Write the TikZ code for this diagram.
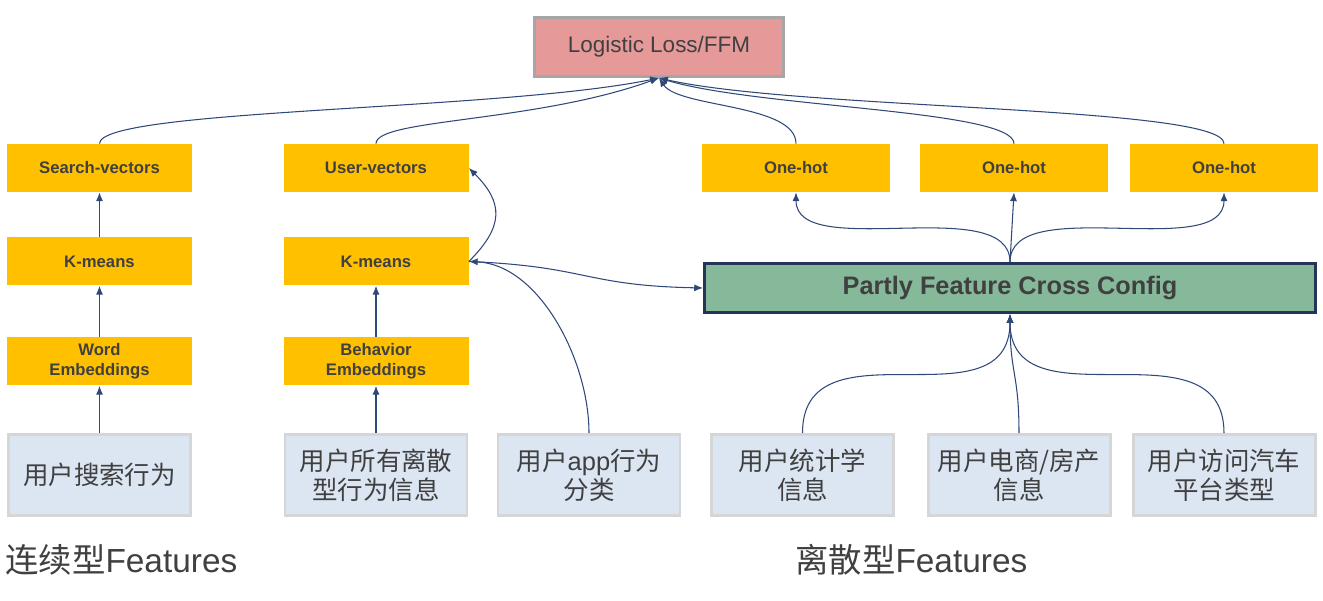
\documentclass[tikz,border=0pt]{standalone}
\usepackage{fontspec}
\setmainfont{Liberation Sans}
\newfontfamily\cjk{Noto Sans CJK SC}
\usetikzlibrary{arrows.meta}
\definecolor{ybox}{RGB}{255,192,0}
\definecolor{lossfill}{RGB}{229,153,153}
\definecolor{lossline}{RGB}{166,166,166}
\definecolor{cfgfill}{RGB}{134,185,154}
\definecolor{cfgline}{RGB}{36,54,88}
\definecolor{srcfill}{RGB}{220,230,242}
\definecolor{srcline}{RGB}{214,214,214}
\definecolor{darktext}{RGB}{64,64,64}
\definecolor{linkblue}{RGB}{47,72,120}

\begin{document}
\begin{tikzpicture}[>={Latex[length=5pt,width=4pt]},
  yellowbox/.style={fill=ybox, minimum width=3.7cm, minimum height=0.96cm, inner sep=0pt, align=center, text=darktext, font=\bfseries\fontsize{9.5}{11.3}\selectfont},
  srcbox/.style={fill=srcfill, draw=srcline, line width=1.7pt, minimum width=3.64cm, minimum height=1.62cm, inner sep=0pt, align=center, text=darktext, font=\cjk\fontsize{14.5}{16.4}\selectfont},
  grouplabel/.style={anchor=west, inner sep=0pt, text=darktext, font=\fontsize{19}{22}\selectfont},
  link/.style={->, draw=linkblue, line width=0.6pt}]
  \useasboundingbox (0,0) rectangle (26.46,-12.02);

  \node[fill=lossfill, draw=lossline, line width=1.7pt, minimum width=4.98cm, minimum height=1.18cm, text=darktext, font=\fontsize{12.8}{15}\selectfont] (loss) at (13.18,-0.94) {Logistic Loss/FFM};

  % continuous features
  \node[yellowbox] (search) at (1.99,-3.36) {Search-vectors};
  \node[yellowbox] (user) at (7.52,-3.36) {User-vectors};
  \node[yellowbox] (km1) at (1.99,-5.23) {K-means};
  \node[yellowbox] (km2) at (7.52,-5.23) {K-means};
  \node[yellowbox] (word) at (1.99,-7.23) {Word\\Embeddings};
  \node[yellowbox] (behav) at (7.52,-7.23) {Behavior\\Embeddings};

  % discrete features
  \node[yellowbox, minimum width=3.76cm] (oh1) at (15.92,-3.36) {One-hot};
  \node[yellowbox, minimum width=3.76cm] (oh2) at (20.28,-3.36) {One-hot};
  \node[yellowbox, minimum width=3.76cm] (oh3) at (24.48,-3.36) {One-hot};
  \node[fill=cfgfill, draw=cfgline, line width=1.7pt, minimum width=12.22cm, minimum height=0.98cm, text=darktext, font=\bfseries\fontsize{14.4}{17}\selectfont] (cfg) at (20.2,-5.76) {Partly Feature Cross Config};

  \node[srcbox] (query) at (1.99,-9.5) {用户搜索行为};
  \node[srcbox] (allbeh) at (7.52,-9.5) {用户所有离散\\型行为信息};
  \node[srcbox] (app) at (11.78,-9.5) {用户{\rmfamily app}行为\\分类};
  \node[srcbox] (stat) at (16.05,-9.5) {用户统计学\\信息};
  \node[srcbox] (shop) at (20.38,-9.5) {用户电商/房产\\信息};
  \node[srcbox] (car) at (24.48,-9.5) {用户访问汽车\\平台类型};

  \node[grouplabel] (contlabel) at (0.1,-11.2) {{\cjk 连续型}Features};
  \node[grouplabel] (disclabel) at (15.9,-11.2) {{\cjk 离散型}Features};

  % connectors
  \draw[link] (query) -- (word);
  \draw[link] (word) -- (km1);
  \draw[link] (km1) -- (search);
  \draw[link] (allbeh) -- (behav);
  \draw[link] (behav) -- (km2);
  \draw[link] (km2.east) .. controls +(0.7,0.7) and +(0.7,-0.7) .. (user.east);
  \draw[link] (app.north) .. controls +(0,1.46) and +(1.4,-0.06) .. (km2.east);
  \draw[link] (km2.east) .. controls +(2.4,-0.1) and +(-2.4,0.05) .. (cfg.west);

  \draw[link] (stat.north) .. controls +(0,2.3) and +(0,-2.3) .. (cfg.south);
  \draw[link] (shop.north) .. controls +(0,1.2) and +(0,-1.2) .. (cfg.south);
  \draw[link] (car.north) .. controls +(0,2.3) and +(0,-2.3) .. (cfg.south);
  \draw[link] (cfg.north) .. controls +(0,1.4) and +(0,-1.4) .. (oh1.south);
  \draw[link] (cfg.north) -- (oh2.south);
  \draw[link] (cfg.north) .. controls +(0,1.4) and +(0,-1.4) .. (oh3.south);

  \draw[link] (search.north) .. controls +(0,0.7) and +(-3.2,-0.66) .. (loss.south);
  \draw[link] (user.north) .. controls +(0,0.5) and +(-2.5,-0.9) .. (loss.south);
  \draw[link] (oh1.north) .. controls +(0,0.8) and +(0.4,-0.6) .. (loss.south);
  \draw[link] (oh2.north) .. controls +(0,0.68) and +(2,-0.6) .. (loss.south);
  \draw[link] (oh3.north) .. controls +(0,0.76) and +(2.8,-0.64) .. (loss.south);
\end{tikzpicture}
\end{document}
